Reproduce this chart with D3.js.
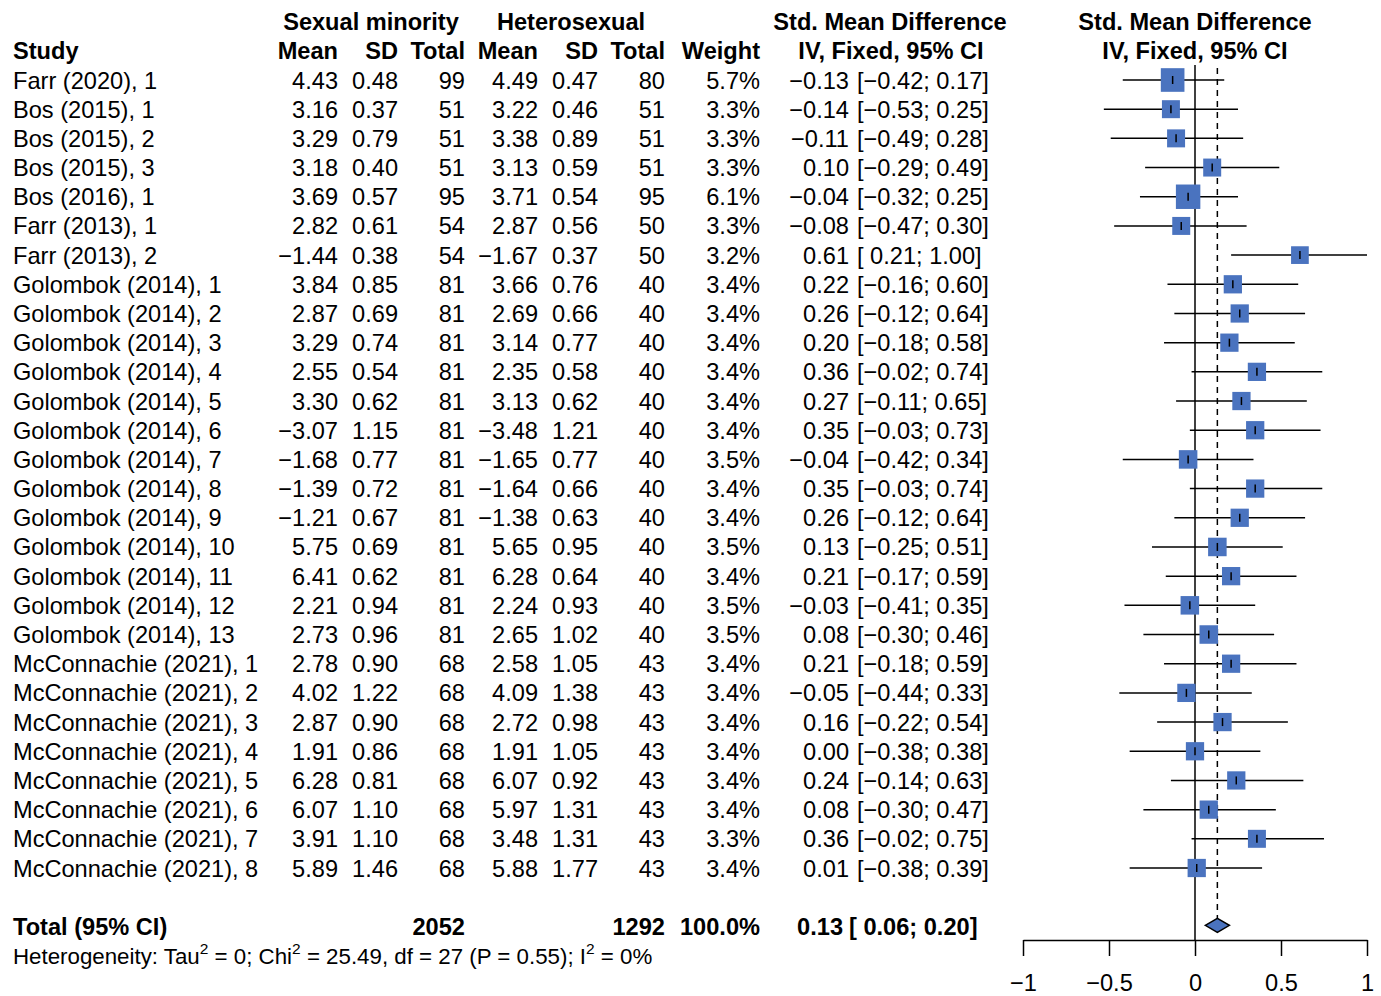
<!DOCTYPE html>
<html>
<head>
<meta charset="utf-8">
<title>Forest plot</title>
<script src="https://cdn.jsdelivr.net/npm/d3@7"></script>
<style>
  body { margin: 0; background: #fff; }
  svg { display: block; font-family: "Liberation Sans", Arial, sans-serif; }
</style>
</head>
<body>
<div id="chart"></div>
<script>
// Forest plot (meta-analysis) with D3.js

// ---------- Data ----------
const studies = [
  'Farr (2020), 1', 'Bos (2015), 1', 'Bos (2015), 2', 'Bos (2015), 3', 'Bos (2016), 1',
  'Farr (2013), 1', 'Farr (2013), 2',
  'Golombok (2014), 1', 'Golombok (2014), 2', 'Golombok (2014), 3', 'Golombok (2014), 4',
  'Golombok (2014), 5', 'Golombok (2014), 6', 'Golombok (2014), 7', 'Golombok (2014), 8',
  'Golombok (2014), 9', 'Golombok (2014), 10', 'Golombok (2014), 11', 'Golombok (2014), 12',
  'Golombok (2014), 13',
  'McConnachie (2021), 1', 'McConnachie (2021), 2', 'McConnachie (2021), 3', 'McConnachie (2021), 4',
  'McConnachie (2021), 5', 'McConnachie (2021), 6', 'McConnachie (2021), 7', 'McConnachie (2021), 8'
];
const smMean  = [4.43, 3.16, 3.29, 3.18, 3.69, 2.82, -1.44, 3.84, 2.87, 3.29, 2.55, 3.30, -3.07, -1.68,
                 -1.39, -1.21, 5.75, 6.41, 2.21, 2.73, 2.78, 4.02, 2.87, 1.91, 6.28, 6.07, 3.91, 5.89];
const smSD    = [0.48, 0.37, 0.79, 0.40, 0.57, 0.61, 0.38, 0.85, 0.69, 0.74, 0.54, 0.62, 1.15, 0.77,
                 0.72, 0.67, 0.69, 0.62, 0.94, 0.96, 0.90, 1.22, 0.90, 0.86, 0.81, 1.10, 1.10, 1.46];
const smTotal = [99, 51, 51, 51, 95, 54, 54, 81, 81, 81, 81, 81, 81, 81,
                 81, 81, 81, 81, 81, 81, 68, 68, 68, 68, 68, 68, 68, 68];
const hetMean = [4.49, 3.22, 3.38, 3.13, 3.71, 2.87, -1.67, 3.66, 2.69, 3.14, 2.35, 3.13, -3.48, -1.65,
                 -1.64, -1.38, 5.65, 6.28, 2.24, 2.65, 2.58, 4.09, 2.72, 1.91, 6.07, 5.97, 3.48, 5.88];
const hetSD   = [0.47, 0.46, 0.89, 0.59, 0.54, 0.56, 0.37, 0.76, 0.66, 0.77, 0.58, 0.62, 1.21, 0.77,
                 0.66, 0.63, 0.95, 0.64, 0.93, 1.02, 1.05, 1.38, 0.98, 1.05, 0.92, 1.31, 1.31, 1.77];
const hetTotal = [80, 51, 51, 51, 95, 50, 50, 40, 40, 40, 40, 40, 40, 40,
                  40, 40, 40, 40, 40, 40, 43, 43, 43, 43, 43, 43, 43, 43];
const weight  = [5.7, 3.3, 3.3, 3.3, 6.1, 3.3, 3.2, 3.4, 3.4, 3.4, 3.4, 3.4, 3.4, 3.5,
                 3.4, 3.4, 3.5, 3.4, 3.5, 3.5, 3.4, 3.4, 3.4, 3.4, 3.4, 3.4, 3.3, 3.4];
const smd     = [-0.13, -0.14, -0.11, 0.10, -0.04, -0.08, 0.61, 0.22, 0.26, 0.20, 0.36, 0.27, 0.35, -0.04,
                 0.35, 0.26, 0.13, 0.21, -0.03, 0.08, 0.21, -0.05, 0.16, 0.00, 0.24, 0.08, 0.36, 0.01];
const ciLower = [-0.42, -0.53, -0.49, -0.29, -0.32, -0.47, 0.21, -0.16, -0.12, -0.18, -0.02, -0.11, -0.03, -0.42,
                 -0.03, -0.12, -0.25, -0.17, -0.41, -0.30, -0.18, -0.44, -0.22, -0.38, -0.14, -0.30, -0.02, -0.38];
const ciUpper = [0.17, 0.25, 0.28, 0.49, 0.25, 0.30, 1.00, 0.60, 0.64, 0.58, 0.74, 0.65, 0.73, 0.34,
                 0.74, 0.64, 0.51, 0.59, 0.35, 0.46, 0.59, 0.33, 0.54, 0.38, 0.63, 0.47, 0.75, 0.39];

// pooled result
const totalSm = 2052;
const totalHet = 1292;
const totalWeight = 100.0;
const pooled = [0.13, 0.06, 0.20];   // estimate, lower, upper
const axisTicks = [-1, -0.5, 0, 0.5, 1];

// ---------- Layout ----------
const width = 1381, height = 996;
const fontSize = 23.6;
const col = {
  study: 13, smMean: 338, smSD: 398, smTotal: 465,
  hetMean: 538, hetSD: 598, hetTotal: 665, weight: 760,
  est: 849, ci: 857, estBold: 843, ciBold: 849
};

const f2 = d3.format('.2f');
const f1 = d3.format('.1f');
const fmtLow = v => (v < 0 ? '' : ' ') + f2(v);   // R pads positive lower limits
const ciText = (lo, hi) => '[' + fmtLow(lo) + '; ' + f2(hi) + ']';

const x = d3.scaleLinear().domain([-1, 1]).range([1023, 1367]);
// row index -> vertical centre (headers are rows -2 and -1)
const y = d3.scaleLinear().domain([0, 27]).range([80, 868]);
const base = r => y(r) + 8.5;   // text baseline for a row

const svg = d3.select('#chart').append('svg')
  .attr('width', width).attr('height', height)
  .attr('font-size', fontSize);

svg.append('rect').attr('width', width).attr('height', height).attr('fill', '#fff');

// helper to add a text
function txt(xp, r, s, anchor = 'start', bold = false) {
  return svg.append('text')
    .attr('x', xp).attr('y', base(r))
    .attr('text-anchor', anchor)
    .attr('font-weight', bold ? 'bold' : 'normal')
    .attr('xml:space', 'preserve')
    .text(s);
}

// ---------- Headers ----------
txt(371, -2, 'Sexual minority', 'middle', true);
txt(571, -2, 'Heterosexual', 'middle', true);
txt(890, -2, 'Std. Mean Difference', 'middle', true);
txt(x(0), -2, 'Std. Mean Difference', 'middle', true);
txt(col.study, -1, 'Study', 'start', true);
txt(col.smMean, -1, 'Mean', 'end', true);
txt(col.smSD, -1, 'SD', 'end', true);
txt(col.smTotal, -1, 'Total', 'end', true);
txt(col.hetMean, -1, 'Mean', 'end', true);
txt(col.hetSD, -1, 'SD', 'end', true);
txt(col.hetTotal, -1, 'Total', 'end', true);
txt(col.weight, -1, 'Weight', 'end', true);
txt(891, -1, 'IV, Fixed, 95% CI', 'middle', true);
txt(x(0), -1, 'IV, Fixed, 95% CI', 'middle', true);

// ---------- Study rows ----------
studies.forEach((s, i) => {
  txt(col.study, i, s);
  txt(col.smMean, i, f2(smMean[i]), 'end');
  txt(col.smSD, i, f2(smSD[i]), 'end');
  txt(col.smTotal, i, smTotal[i], 'end');
  txt(col.hetMean, i, f2(hetMean[i]), 'end');
  txt(col.hetSD, i, f2(hetSD[i]), 'end');
  txt(col.hetTotal, i, hetTotal[i], 'end');
  txt(col.weight, i, f1(weight[i]) + '%', 'end');
  txt(col.est, i, f2(smd[i]), 'end');
  txt(col.ci, i, ciText(ciLower[i], ciUpper[i]));
});

// ---------- Total rows ----------
const totalRow = 29;
txt(col.study, totalRow, 'Total (95% CI)', 'start', true);
txt(col.smTotal, totalRow, totalSm, 'end', true);
txt(col.hetTotal, totalRow, totalHet, 'end', true);
txt(col.weight, totalRow, f1(totalWeight) + '%', 'end', true);
txt(col.estBold, totalRow, f2(pooled[0]), 'end', true);
txt(col.ciBold, totalRow, ciText(pooled[1], pooled[2]), 'start', true);

// heterogeneity line with superscripts (slightly smaller text)
const hetSize = 22.3;
const het = svg.append('text').attr('x', col.study).attr('y', base(30));
const hetParts = [
  ['Heterogeneity: Tau', false], ['2', true], [' = 0; Chi', false], ['2', true],
  [' = 25.49, df = 27 (P = 0.55); I', false], ['2', true], [' = 0%', false]
];
let raised = false;
hetParts.forEach(([t, sup]) => {
  const dy = sup ? -10 : (raised ? 10 : 0);
  raised = sup;
  het.append('tspan')
    .attr('font-size', sup ? 15.5 : hetSize)
    .attr('dy', dy)
    .attr('xml:space', 'preserve')
    .text(t);
});

// ---------- Plot ----------
const plot = svg.append('g');
const axisY = 940;

// line of no effect
plot.append('line')
  .attr('x1', x(0)).attr('x2', x(0))
  .attr('y1', y(0) - 15).attr('y2', axisY)
  .attr('stroke', '#000').attr('stroke-width', 1.5);

// pooled estimate dashed line
plot.append('line')
  .attr('x1', x(pooled[0])).attr('x2', x(pooled[0]))
  .attr('y1', y(0) - 12).attr('y2', y(totalRow) - 7)
  .attr('stroke', '#000').attr('stroke-width', 1.5)
  .attr('stroke-dasharray', '6,5');

// CI lines
plot.selectAll('line.ci')
  .data(studies)
  .join('line')
  .attr('class', 'ci')
  .attr('x1', (d, i) => x(ciLower[i]))
  .attr('x2', (d, i) => x(ciUpper[i]))
  .attr('y1', (d, i) => y(i)).attr('y2', (d, i) => y(i))
  .attr('stroke', '#000').attr('stroke-width', 1.5);

// squares sized by weight (area)
const side = w => 9.9 * Math.sqrt(w);
plot.selectAll('rect.box')
  .data(studies)
  .join('rect')
  .attr('class', 'box')
  .attr('x', (d, i) => x(smd[i]) - side(weight[i]) / 2)
  .attr('y', (d, i) => y(i) - side(weight[i]) / 2)
  .attr('width', (d, i) => side(weight[i]))
  .attr('height', (d, i) => side(weight[i]))
  .attr('fill', '#4a73bf');

// point estimate ticks
plot.selectAll('line.pt')
  .data(studies)
  .join('line')
  .attr('class', 'pt')
  .attr('x1', (d, i) => x(smd[i])).attr('x2', (d, i) => x(smd[i]))
  .attr('y1', (d, i) => y(i) - 4).attr('y2', (d, i) => y(i) + 4)
  .attr('stroke', '#000').attr('stroke-width', 1.5);

// pooled diamond
const cy = y(totalRow) - 1;
plot.append('polygon')
  .attr('points', [
    [x(pooled[1]), cy], [x(pooled[0]), cy - 7],
    [x(pooled[2]), cy], [x(pooled[0]), cy + 7]
  ].map(p => p.join(',')).join(' '))
  .attr('fill', '#4a73bf').attr('stroke', '#000').attr('stroke-width', 1.5);

// x axis
const axis = d3.axisBottom(x)
  .tickValues(axisTicks)
  .tickSize(16)
  .tickSizeOuter(0)
  .tickFormat(d => (d === 0 ? '0' : d3.format('')(d)));

const ax = svg.append('g')
  .attr('transform', `translate(0,${axisY})`)
  .call(axis);
ax.select('.domain').attr('stroke', '#000').attr('stroke-width', 1.5);
ax.selectAll('.tick line').attr('stroke', '#000').attr('stroke-width', 1.5);
ax.selectAll('.tick text')
  .attr('font-size', fontSize)
  .attr('font-family', '"Liberation Sans", Arial, sans-serif')
  .attr('fill', '#000')
  .attr('dy', 0).attr('y', 51);
</script>
</body>
</html>
